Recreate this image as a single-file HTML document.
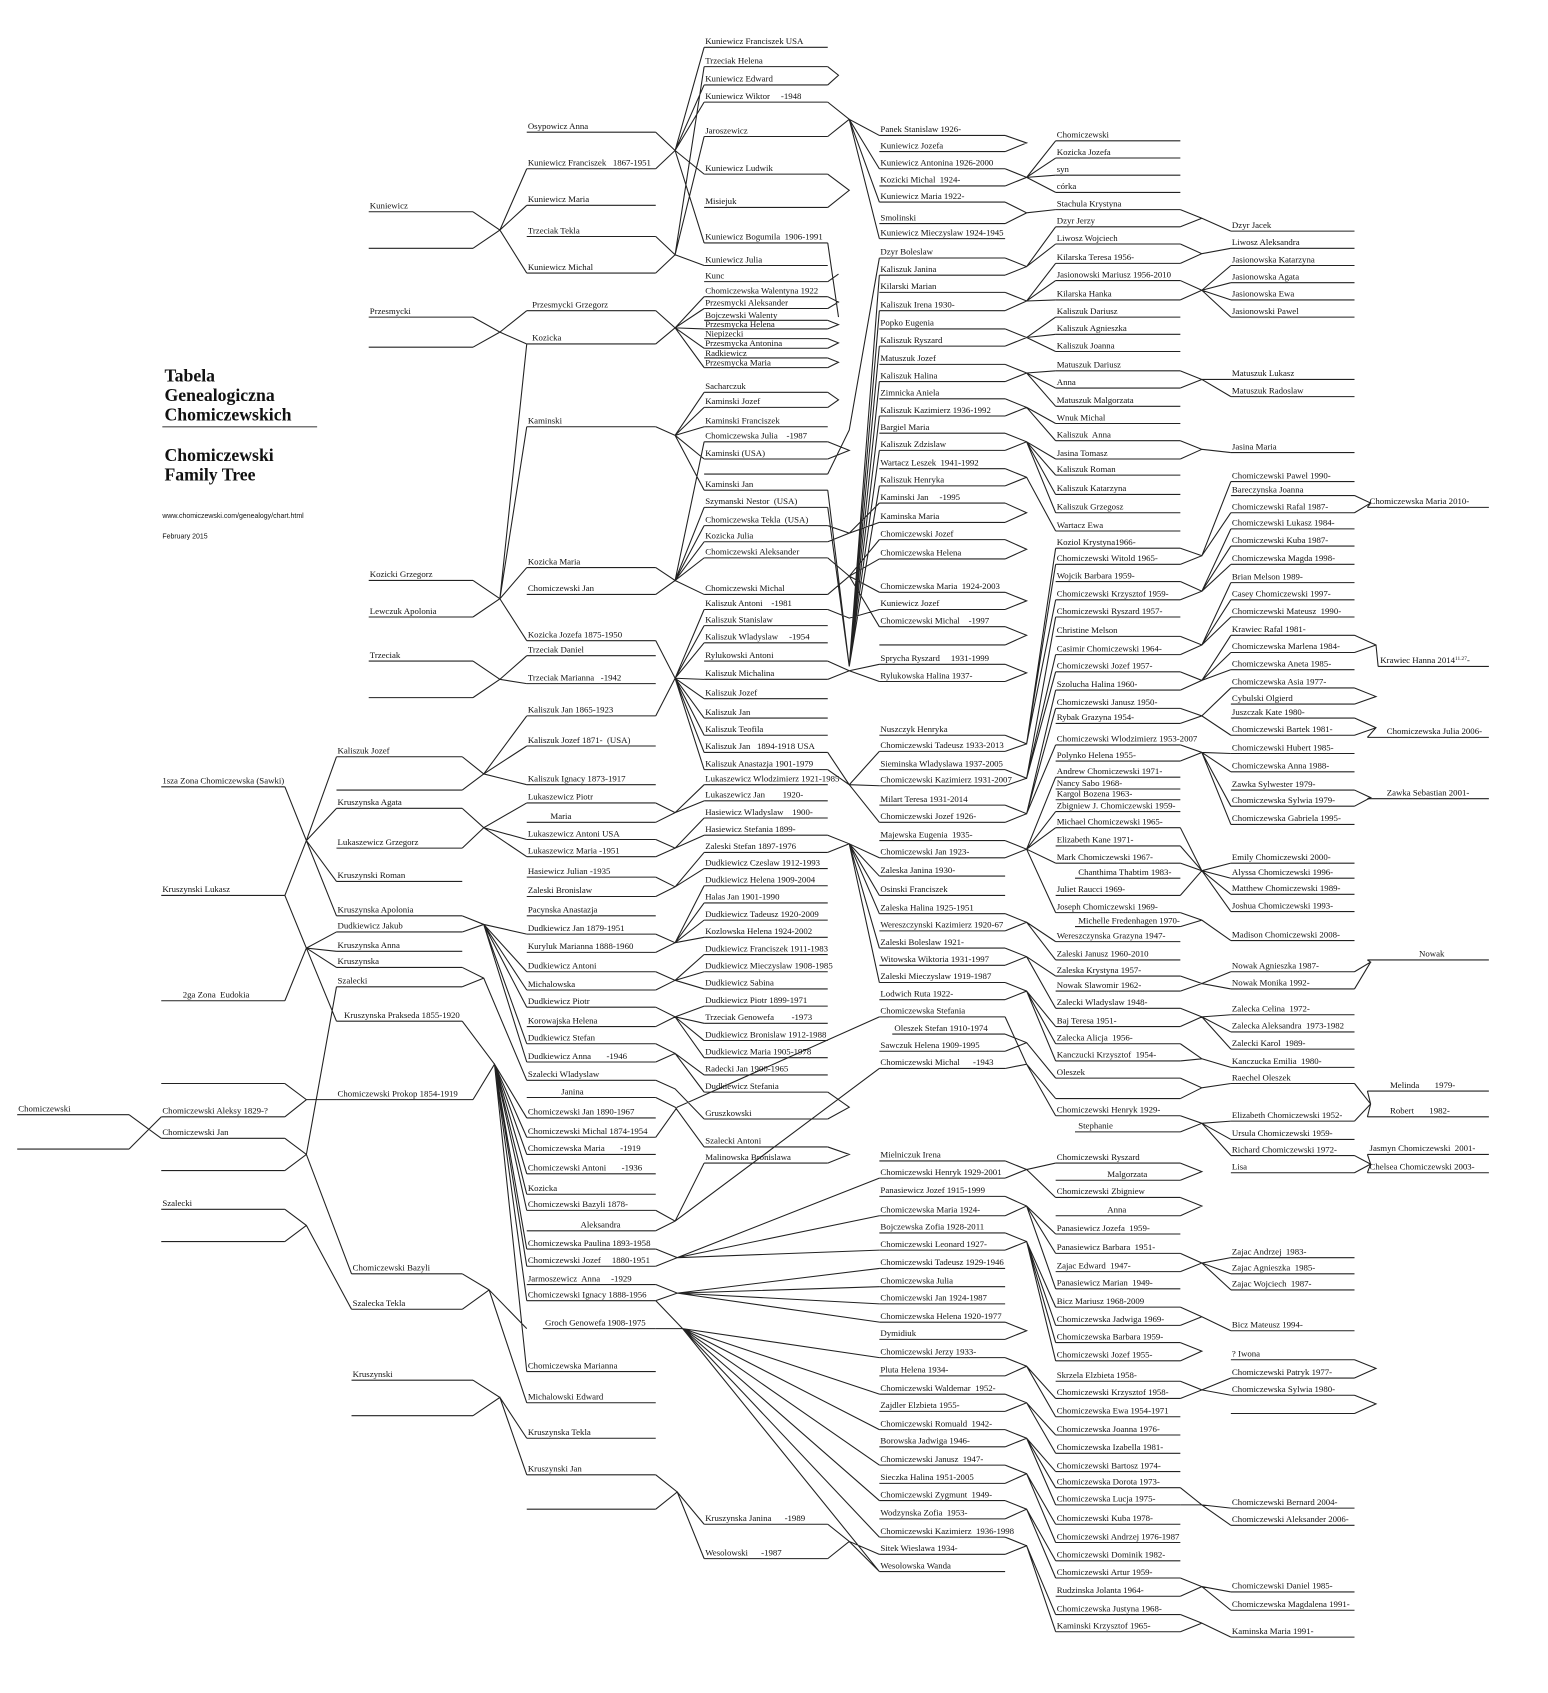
<!DOCTYPE html>
<html><head><meta charset="utf-8">
<style>
html,body{margin:0;padding:0;background:#fff;}
svg{display:block;}
text{font-family:"Liberation Serif",serif;font-size:8.2px;fill:#111;white-space:pre;}
.t{font-weight:bold;font-size:16.5px;}
.s{font-family:"Liberation Sans",sans-serif;font-size:6.5px;}
path{stroke:#222;fill:none;stroke-width:1;}
</style></head><body>
<svg width="1548" height="1693" viewBox="0 0 1440 1575" preserveAspectRatio="none" xmlns="http://www.w3.org/2000/svg">
<rect width="1440" height="1575" fill="#fff"/>
<text class="t" x="153" y="355">Tabela</text>
<text class="t" x="153" y="373">Genealogiczna</text>
<text class="t" x="153" y="391">Chomiczewskich</text>
<path d="M151 397H295" style="stroke:#777;stroke-width:1.3"/>
<text class="t" x="153" y="429">Chomiczewski</text>
<text class="t" x="153" y="447">Family Tree</text>
<text class="s" x="151" y="482">www.chomiczewski.com/genealogy/chart.html</text>
<text class="s" x="151" y="501">February 2015</text>

<path d="
M16 1037H120M16 1069H120
M150 732H265M150 833H265M150 931H265M150 1008H265M150 1039H265M150 1059H265M150 1089H265M150 1125H265M150 1155H265
M343 197H440M343 231H440M343 295H440M343 323H440M343 540H440M343 574H440M343 615H440M343 649H440
M313 704H430M313 735H430M313 752H430M313 789H430M313 820H430M313 852H430M313 867H430M313 885H430M313 900H430M313 918H430M313 950H430M313 1023H440
M327 1185H430M327 1218H430M327 1284H440M327 1317H440
M490 123H610M490 157H610M490 191H610M490 220H610M490 254H610M490 289H610M490 320H610M490 397H610M490 528H610M490 553H610M490 596H610M490 610H610M490 636H610M490 666H610M490 694H610M490 730H610M490 747H610M490 765H610M490 781H610M490 797H610M490 816H610M490 834H610M490 852H610M490 869H610M490 886H610M490 904H610M490 921H610M490 937H610M490 955H610M490 971H610M490 988H610M490 1005H610M490 1021H610M490 1040H610M490 1058H610M490 1074H610M490 1092H610M490 1111H610M490 1126H610M490 1145H610M490 1162H610M490 1178H610M490 1195H610M490 1210H610M505 1236H610M490 1276H610M490 1305H610M490 1338H610M490 1372H610M490 1404H610
M655 44H770M655 62H770M655 79H770M655 95H770M655 127H770M655 162H770M655 193H770M655 226H770M655 247H770M655 262H770M655 276H770M655 287H770M655 298H770M655 306H770M655 315H770M655 324H770M655 333H770M655 342H770M655 365H770M655 379H770M655 397H770M655 411H770M655 427H770M655 441H770M655 456H770M655 472H770M655 489H770M655 504H770M655 519H770M655 553H770M655 567H770M655 582H770M655 598H770M655 615H770M655 632H770M655 650H770M655 668H770M655 684H770M655 700H770M655 716H770M655 730H770M655 745H770M655 761H770M655 777H770M655 793H770M655 808H770M655 824H770M655 840H770M655 856H770M655 872H770M655 888H770M655 904H770M655 920H770M655 936H770M655 952H770M655 968H770M655 984H770M655 1000H770M655 1016H770M655 1041H770M655 1067H770M655 1082H770M655 1418H770M655 1450H770
M818 126H935M818 141H935M818 157H935M818 173H935M818 188H935M818 208H935M818 222H935M818 240H935M818 256H935M818 272H935M818 289H935M818 306H935M818 322H935M818 339H935M818 355H935M818 371H935M818 387H935M818 403H935M818 419H935M818 436H935M818 452H935M818 468H935M818 486H935M818 502H935M818 520H935M818 551H935M818 567H935M818 583H935M818 600H935M818 618H935M818 634H935M818 684H935M818 699H935M818 716H935M818 731H935M818 749H935M818 765H935M818 782H935M818 798H935M818 815H935M818 833H935M818 850H935M818 866H935M818 882H935M818 898H935M818 914H935M818 930H935M818 946H935M830 962H935M818 978H935M818 994H935
M818 1080H935M818 1096H935M818 1113H935M818 1131H935M818 1147H935M818 1163H935M818 1180H935M818 1197H935M818 1213H935M818 1230H935M818 1246H935M818 1263H935M818 1280H935M818 1297H935M818 1313H935M818 1330H935M818 1346H935M818 1363H935M818 1380H935M818 1396H935M818 1413H935M818 1430H935M818 1446H935M818 1462H935
M982 131H1098M982 147H1098M982 163H1098M982 179H1098M982 195H1098M982 211H1098M982 227H1098M982 245H1098M982 261H1098M982 279H1098M982 295H1098M982 311H1098M982 327H1098M982 345H1098M982 361H1098M982 378H1098M982 394H1098M982 410H1098M982 427H1098M982 442H1098M982 460H1098M982 477H1098M982 494H1098M982 510H1098M982 525H1098M982 541H1098M982 558H1098M982 574H1098M982 592H1098M982 609H1098M982 625H1098M982 642H1098M982 659H1098M982 673H1098M982 693H1098M982 708H1098M982 723H1098M982 734H1098M982 744H1098M982 755H1098M982 770H1098M982 787H1098M982 803H1098M1000 817H1098M982 833H1098M982 849H1098M1000 862H1098M982 876H1098M982 893H1098M982 908H1098M982 922H1098M982 938H1098M982 955H1098M982 971H1098M982 987H1098M982 1003H1098M982 1022H1098M982 1038H1098M1000 1053H1098
M982 1082H1098M982 1098H1098M982 1114H1098M982 1131H1098M982 1148H1098M982 1166H1098M982 1183H1098M982 1199H1098M982 1216H1098M982 1233H1098M982 1249H1098M982 1266H1098M982 1285H1098M982 1301H1098M982 1318H1098M982 1335H1098M982 1352H1098M982 1369H1098M982 1384H1098M982 1400H1098M982 1418H1098M982 1435H1098M982 1452H1098M982 1468H1098M982 1485H1098M982 1502H1098M982 1518H1098
M1145 215H1260M1145 231H1260M1145 247H1260M1145 263H1260M1145 279H1260M1145 295H1260M1145 353H1260M1145 369H1260M1145 421H1260M1145 448H1260M1145 461H1260M1145 477H1260M1145 492H1260M1145 508H1260M1145 525H1260M1145 542H1260M1145 558H1260M1145 574H1260M1145 591H1260M1145 607H1260M1145 623H1260M1145 640H1260M1145 655H1260M1145 668H1260M1145 684H1260M1145 701H1260M1145 718H1260M1145 735H1260M1145 750H1260M1145 767H1260M1145 803H1260M1145 817H1260M1145 832H1260M1145 848H1260M1145 875H1260M1145 904H1260M1145 920H1260M1145 944H1260M1145 960H1260M1145 976H1260M1145 993H1260M1145 1008H1260M1145 1043H1260M1145 1060H1260M1145 1075H1260M1145 1091H1260M1145 1170H1260M1145 1185H1260M1145 1200H1260M1145 1238H1260M1145 1265H1260M1145 1282H1260M1145 1298H1260M1145 1315H1260M1145 1403H1260M1145 1419H1260M1145 1481H1260M1145 1498H1260M1145 1523H1260
M1272 472H1385M1282 620H1385M1272 686H1385M1272 743H1385M1272 893H1385M1272 1015H1385M1272 1039H1385M1272 1074H1385M1272 1091H1385
"/>

<path d="
M120 1037L150 1059M120 1069L150 1039
M265 1008L285 1023L313 1023M265 1039L285 1023
M265 732L285 782L313 752M265 833L285 782L313 820M285 782L313 704M285 782L313 852
M265 833L285 882L313 867M265 931L285 882L313 885M285 882L313 900M285 882L313 950
M265 1059L285 1074L313 918M265 1089L285 1074L327 1185
M265 1125L285 1140L327 1218M265 1155L285 1140
M440 197L465 214L490 157M440 231L465 214L490 191M465 214L490 254
M440 295L465 309L490 289M440 323L465 309L490 320
M440 540L465 557L490 320M440 574L465 557L490 397M465 557L490 528M465 557L490 596
M440 615L465 632L490 610M440 649L465 632L490 636
M430 704L450 720L490 666M430 735L450 720L490 694M450 720L490 730
M430 752L450 770L490 747M430 789L450 770L490 781M450 770L490 797
M430 852L450 860L490 869M430 867L450 860L490 904M450 860L490 937M450 860L490 971M450 860L490 988M450 860L490 921
M430 900L450 910L490 1005M430 918L450 910
M430 950L460 990L490 1040M440 1023L460 990L490 1058M460 990L490 1074M460 990L490 1092M460 990L490 1126M460 990L490 1162M460 990L490 1178M460 990L490 1210M460 990L490 1276M460 990L490 1111
M430 1185L455 1200L490 1305M430 1218L455 1200L490 1236
M440 1284L465 1300L490 1338M440 1317L465 1300L490 1372
M610 123L628 140L655 44M610 157L628 140L655 79M628 140L655 95M628 140L655 162M628 140L655 226
M610 220L628 237L655 62M610 254L628 237L655 247M628 237L655 127
M610 289L628 305L655 276M610 320L628 305L655 287M628 305L655 306M628 305L655 324M628 305L655 342
M610 397L628 405L655 379M628 405L655 397M628 405L655 427M628 405L655 456M628 405L655 365
M610 528L628 540L655 411M610 553L628 540L655 489M628 540L655 504M628 540L655 519M628 540L655 553M628 540L655 472
M610 596L628 631L655 567M610 666L628 631L655 582M628 631L655 598M628 631L655 632M628 631L655 650M628 631L655 668M628 631L655 684M628 631L655 700M628 631L655 716
M610 747L628 756L655 730M610 765L628 756L655 745
M610 781L628 789L655 761M610 797L628 789L655 777
M610 816L628 825L655 808M610 834L628 825L655 793
M610 869L628 877L655 824M610 886L628 877L655 856M628 877L655 872M628 877L655 840
M610 904L628 912L655 888M610 921L628 912L655 904M628 912L655 920
M610 937L628 946L655 936M610 955L628 946L655 952M628 946L655 968M628 946L655 984
M610 971L628 980L655 1000M610 988L628 980L655 1016
M610 1005L628 1013L655 1041M610 1021L628 1030L655 1067
M610 1126L628 1136L818 994M610 1145L628 1136L655 1082
M610 1162L630 1170L818 1096M610 1178L630 1170L818 1131M630 1170L818 1163M610 1058L630 1030L818 946
M610 1195L630 1203L818 1180M610 1210L630 1203L818 1197M630 1203L818 1213M630 1203L818 1230
M610 1210L635 1236L818 1263M610 1236L635 1236L818 1297M635 1236L818 1330M635 1236L818 1363M635 1236L818 1396M635 1236L818 1430M635 1236L818 1462
M610 1372L630 1388L655 1418M610 1404L630 1388L655 1450
M770 62L780 70L770 79M770 162L790 177L770 193M770 226L780 295M770 262L780 255M770 276L780 281L770 287M770 298L780 302L770 306M770 315L780 319L770 324M770 333L780 337L770 342M770 365L780 372L770 379
M770 95L790 111L818 126M770 127L790 111L818 157M790 111L818 188M790 111L818 222
M770 411L790 419L770 427M770 441L790 400L818 240
M770 456L790 620L818 256M770 472L790 620L818 289M790 620L818 322M790 620L818 355M790 620L818 387M790 620L818 419M790 620L818 452
M770 489L790 496L818 486M770 504L790 496L818 468
M770 519L790 536L818 502M770 553L790 536L818 520M790 536L818 551M790 536L818 583
M770 567L790 575L818 567M770 615L790 624L818 634M770 632L790 624L818 618
M770 716L790 730L818 731M770 700L790 730L818 699M790 730L818 765
M770 777L790 785L818 798M770 793L790 785L818 815M790 785L818 850M790 785L818 882M790 785L818 914M790 785L818 833
M770 1082L790 1074L770 1067M770 1016L790 1030L770 1041
M770 1418L790 1434L818 1446M770 1450L790 1434L818 1462
M935 126L955 133L935 141
M935 157L955 165L982 163M935 173L955 165L982 179M955 165L982 131M955 165L982 147
M935 188L955 198L982 195M935 208L955 198
M935 240L955 248L982 211M935 256L955 248L982 227
M935 272L955 280L982 245M935 289L955 280L982 279M955 280L982 261
M935 306L955 314L982 295M935 322L955 314L982 311M955 314L982 327
M935 339L955 347L982 345M935 355L955 347L982 378M955 347L982 361
M935 371L955 379L982 410M935 387L955 379L982 394
M935 403L955 411L982 442M935 419L955 411L982 460M955 411L982 477M955 411L982 427
M935 436L955 444L982 494M935 452L955 444
M935 468L955 477L935 486M935 502L955 511L935 520M935 551L955 559L935 567M935 583L955 591L935 600M935 618L955 626L935 634
M935 684L955 692L982 525M935 699L955 692L982 558M955 692L982 510
M935 716L955 724L982 574M935 731L955 724L982 609M955 724L982 625
M935 749L955 757L982 659M935 765L955 757L982 693M955 757L982 642
M935 782L955 790L982 723M935 798L955 790L982 755M955 790L982 770M955 790L982 803M955 790L982 849
M935 850L955 858L982 893M935 866L955 858L982 876
M935 882L955 890L982 908M935 898L955 890L982 938
M935 914L955 922L982 955M935 930L955 922L982 971M955 922L982 987
M935 962L955 970L982 1003M935 978L955 970
M935 946L955 990L982 1022M935 994L955 990L982 1038
M935 1080L955 1088L982 1082M935 1096L955 1088L982 1114
M935 1113L955 1122L982 1148M935 1131L955 1122L982 1166M955 1122L982 1199
M935 1147L955 1155L982 1233M935 1163L955 1155L982 1249M955 1155L982 1266M955 1155L982 1216
M935 1230L955 1238L935 1246
M935 1263L955 1271L982 1301M935 1280L955 1271L982 1318
M935 1297L955 1305L982 1335M935 1313L955 1305L982 1352
M935 1330L955 1338L982 1369M935 1346L955 1338L982 1384M955 1338L982 1400
M935 1363L955 1371L982 1418M935 1380L955 1371L982 1435
M935 1396L955 1404L982 1452M935 1413L955 1404L982 1468
M935 1430L955 1438L982 1502M935 1446L955 1438L982 1518
M1098 195L1118 203L1145 215M1098 211L1118 203
M1098 227L1118 236L1145 231M1098 245L1118 236
M1098 261L1118 270L1145 247M1098 279L1118 270L1145 263M1118 270L1145 279M1118 270L1145 295
M1098 345L1118 353L1145 353M1098 361L1118 353L1145 369
M1098 410L1118 418L1145 421M1098 427L1118 418
M1098 510L1118 517L1145 448M1098 525L1118 517L1145 477
M1098 541L1118 550L1145 492M1098 558L1118 550L1145 508M1118 550L1145 525
M1098 592L1118 600L1145 542M1098 609L1118 600L1145 558M1118 600L1145 574
M1098 625L1118 633L1145 591M1098 642L1118 633L1145 607M1118 633L1145 623
M1098 659L1118 666L1145 640M1098 673L1118 666L1145 684
M1098 693L1118 700L1145 701M1098 708L1118 700L1145 718M1118 700L1145 750M1118 700L1145 767
M1098 770L1118 810L1145 803M1098 787L1118 810L1145 817M1098 803L1118 810L1145 832M1098 833L1118 810L1145 848
M1098 849L1118 856L1145 875M1098 862L1118 856
M1098 908L1118 915L1145 904M1098 922L1118 915L1145 920
M1098 938L1118 946L1145 944M1098 955L1118 946L1145 960M1118 946L1145 976
M1098 971L1118 985L1145 993M1098 987L1118 985
M1098 1003L1118 1012L1145 1008M1098 1022L1118 1012
M1098 1038L1118 1045L1145 1043M1098 1053L1118 1045L1145 1060M1118 1045L1145 1075
M1098 1166L1118 1175L1145 1170M1098 1183L1118 1175L1145 1185M1118 1175L1145 1200
M1098 1216L1118 1225L1145 1238M1098 1233L1118 1225
M1098 1082L1118 1090L1098 1098M1098 1114L1118 1122L1098 1131M1098 1249L1118 1257L1098 1266
M1098 1285L1118 1293L1145 1282M1098 1301L1118 1293L1145 1298
M1098 1384L1118 1400L1145 1403M1098 1400L1118 1400L1145 1419
M1098 1468L1118 1476L1145 1481M1098 1485L1118 1476L1145 1498
M1098 1502L1118 1510L1145 1523M1098 1518L1118 1510
M1260 1265L1280 1273L1260 1282M1260 1298L1280 1306L1260 1315
M1260 461L1275 468L1272 472M1260 477L1275 468
M1260 591L1280 600L1282 620M1260 607L1280 600
M1260 640L1280 648L1260 655M1260 668L1280 677L1272 686M1260 684L1280 677
M1260 735L1275 742L1272 743M1260 750L1275 742
M1260 904L1275 895L1272 893M1260 920L1275 895
M1260 1008L1275 1027L1272 1039M1260 1043L1275 1027L1272 1015
M1260 1075L1275 1083L1272 1091M1260 1091L1275 1083L1272 1074
"/>

<text x="17" y="1034">Chomiczewski</text>
<text x="151" y="729">1sza Zona Chomiczewska (Sawki)</text>
<text x="151" y="830">Kruszynski Lukasz</text>
<text x="170" y="928">2ga Zona  Eudokia</text>
<text x="151" y="1036">Chomiczewski Aleksy 1829-?</text>
<text x="151" y="1056">Chomiczewski Jan</text>
<text x="151" y="1122">Szalecki</text>
<text x="344" y="194">Kuniewicz</text>
<text x="344" y="292">Przesmycki</text>
<text x="344" y="537">Kozicki Grzegorz</text>
<text x="344" y="571">Lewczuk Apolonia</text>
<text x="344" y="612">Trzeciak</text>
<text x="314" y="701">Kaliszuk Jozef</text>
<text x="314" y="749">Kruszynska Agata</text>
<text x="314" y="786">Lukaszewicz Grzegorz</text>
<text x="314" y="817">Kruszynski Roman</text>
<text x="314" y="849">Kruszynska Apolonia</text>
<text x="314" y="864">Dudkiewicz Jakub</text>
<text x="314" y="882">Kruszynska Anna</text>
<text x="314" y="897">Kruszynska</text>
<text x="314" y="915">Szalecki</text>
<text x="320" y="947">Kruszynska Prakseda 1855-1920</text>
<text x="314" y="1020">Chomiczewski Prokop 1854-1919</text>
<text x="328" y="1182">Chomiczewski Bazyli</text>
<text x="328" y="1215">Szalecka Tekla</text>
<text x="328" y="1281">Kruszynski</text>

<text x="491" y="120">Osypowicz Anna</text>
<text x="491" y="154">Kuniewicz Franciszek   1867-1951</text>
<text x="491" y="188">Kuniewicz Maria</text>
<text x="491" y="217">Trzeciak Tekla</text>
<text x="491" y="251">Kuniewicz Michal</text>
<text x="495" y="286">Przesmycki Grzegorz</text>
<text x="495" y="317">Kozicka</text>
<text x="491" y="394">Kaminski</text>
<text x="491" y="525">Kozicka Maria</text>
<text x="491" y="550">Chomiczewski Jan</text>
<text x="491" y="593">Kozicka Jozefa 1875-1950</text>
<text x="491" y="607">Trzeciak Daniel</text>
<text x="491" y="633">Trzeciak Marianna   -1942</text>
<text x="491" y="663">Kaliszuk Jan 1865-1923</text>
<text x="491" y="691">Kaliszuk Jozef 1871-  (USA)</text>
<text x="491" y="727">Kaliszuk Ignacy 1873-1917</text>
<text x="491" y="744">Lukaszewicz Piotr</text>
<text x="512" y="762">Maria</text>
<text x="491" y="778">Lukaszewicz Antoni USA</text>
<text x="491" y="794">Lukaszewicz Maria -1951</text>
<text x="491" y="813">Hasiewicz Julian -1935</text>
<text x="491" y="831">Zaleski Bronislaw</text>
<text x="491" y="849">Pacynska Anastazja</text>
<text x="491" y="866">Dudkiewicz Jan 1879-1951</text>
<text x="491" y="883">Kuryluk Marianna 1888-1960</text>
<text x="491" y="901">Dudkiewicz Antoni</text>
<text x="491" y="918">Michalowska</text>
<text x="491" y="934">Dudkiewicz Piotr</text>
<text x="491" y="952">Korowajska Helena</text>
<text x="491" y="968">Dudkiewicz Stefan</text>
<text x="491" y="985">Dudkiewicz Anna       -1946</text>
<text x="491" y="1002">Szalecki Wladyslaw</text>
<text x="522" y="1018">Janina</text>
<text x="491" y="1037">Chomiczewski Jan 1890-1967</text>
<text x="491" y="1055">Chomiczewski Michal 1874-1954</text>
<text x="491" y="1071">Chomiczewska Maria       -1919</text>
<text x="491" y="1089">Chomiczewski Antoni       -1936</text>
<text x="491" y="1108">Kozicka</text>
<text x="491" y="1123">Chomiczewski Bazyli 1878-</text>
<text x="540" y="1142">Aleksandra</text>
<text x="491" y="1159">Chomiczewska Paulina 1893-1958</text>
<text x="491" y="1175">Chomiczewski Jozef     1880-1951</text>
<text x="491" y="1192">Jarmoszewicz  Anna     -1929</text>
<text x="491" y="1207">Chomiczewski Ignacy 1888-1956</text>
<text x="507" y="1233">Groch Genowefa 1908-1975</text>
<text x="491" y="1273">Chomiczewska Marianna</text>
<text x="491" y="1302">Michalowski Edward</text>
<text x="491" y="1335">Kruszynska Tekla</text>
<text x="491" y="1369">Kruszynski Jan</text>

<text x="656" y="41">Kuniewicz Franciszek USA</text>
<text x="656" y="59">Trzeciak Helena</text>
<text x="656" y="76">Kuniewicz Edward</text>
<text x="656" y="92">Kuniewicz Wiktor     -1948</text>
<text x="656" y="124">Jaroszewicz</text>
<text x="656" y="159">Kuniewicz Ludwik</text>
<text x="656" y="190">Misiejuk</text>
<text x="656" y="223">Kuniewicz Bogumila  1906-1991</text>
<text x="656" y="244">Kuniewicz Julia</text>
<text x="656" y="259">Kunc</text>
<text x="656" y="273">Chomiczewska Walentyna 1922</text>
<text x="656" y="284">Przesmycki Aleksander</text>
<text x="656" y="296">Bojczewski Walenty</text>
<text x="656" y="304">Przesmycka Helena</text>
<text x="656" y="313">Niepizecki</text>
<text x="656" y="322">Przesmycka Antonina</text>
<text x="656" y="331">Radkiewicz</text>
<text x="656" y="340">Przesmycka Maria</text>
<text x="656" y="362">Sacharczuk</text>
<text x="656" y="376">Kaminski Jozef</text>
<text x="656" y="394">Kaminski Franciszek</text>
<text x="656" y="408">Chomiczewska Julia    -1987</text>
<text x="656" y="424">Kaminski (USA)</text>
<text x="656" y="453">Kaminski Jan</text>
<text x="656" y="469">Szymanski Nestor  (USA)</text>
<text x="656" y="486">Chomiczewska Tekla  (USA)</text>
<text x="656" y="501">Kozicka Julia</text>
<text x="656" y="516">Chomiczewski Aleksander</text>
<text x="656" y="550">Chomiczewski Michal</text>
<text x="656" y="564">Kaliszuk Antoni    -1981</text>
<text x="656" y="579">Kaliszuk Stanislaw</text>
<text x="656" y="595">Kaliszuk Wladyslaw     -1954</text>
<text x="656" y="612">Rylukowski Antoni</text>
<text x="656" y="629">Kaliszuk Michalina</text>
<text x="656" y="647">Kaliszuk Jozef</text>
<text x="656" y="665">Kaliszuk Jan</text>
<text x="656" y="681">Kaliszuk Teofila</text>
<text x="656" y="697">Kaliszuk Jan   1894-1918 USA</text>
<text x="656" y="713">Kaliszuk Anastazja 1901-1979</text>
<text x="656" y="727">Lukaszewicz Wlodzimierz 1921-1985</text>
<text x="656" y="742">Lukaszewicz Jan        1920-</text>
<text x="656" y="758">Hasiewicz Wladyslaw    1900-</text>
<text x="656" y="774">Hasiewicz Stefania 1899-</text>
<text x="656" y="790">Zaleski Stefan 1897-1976</text>
<text x="656" y="805">Dudkiewicz Czeslaw 1912-1993</text>
<text x="656" y="821">Dudkiewicz Helena 1909-2004</text>
<text x="656" y="837">Halas Jan 1901-1990</text>
<text x="656" y="853">Dudkiewicz Tadeusz 1920-2009</text>
<text x="656" y="869">Kozlowska Helena 1924-2002</text>
<text x="656" y="885">Dudkiewicz Franciszek 1911-1983</text>
<text x="656" y="901">Dudkiewicz Mieczyslaw 1908-1985</text>
<text x="656" y="917">Dudkiewicz Sabina</text>
<text x="656" y="933">Dudkiewicz Piotr 1899-1971</text>
<text x="656" y="949">Trzeciak Genowefa        -1973</text>
<text x="656" y="965">Dudkiewicz Bronislaw 1912-1988</text>
<text x="656" y="981">Dudkiewicz Maria 1905-1978</text>
<text x="656" y="997">Radecki Jan 1900-1965</text>
<text x="656" y="1013">Dudkiewicz Stefania</text>
<text x="656" y="1038">Gruszkowski</text>
<text x="656" y="1064">Szalecki Antoni</text>
<text x="656" y="1079">Malinowska Bronislawa</text>
<text x="656" y="1415">Kruszynska Janina      -1989</text>
<text x="656" y="1447">Wesolowski      -1987</text>

<text x="819" y="123">Panek Stanislaw 1926-</text>
<text x="819" y="138">Kuniewicz Jozefa</text>
<text x="819" y="154">Kuniewicz Antonina 1926-2000</text>
<text x="819" y="170">Kozicki Michal  1924-</text>
<text x="819" y="185">Kuniewicz Maria 1922-</text>
<text x="819" y="205">Smolinski</text>
<text x="819" y="219">Kuniewicz Mieczyslaw 1924-1945</text>
<text x="819" y="237">Dzyr Boleslaw</text>
<text x="819" y="253">Kaliszuk Janina</text>
<text x="819" y="269">Kilarski Marian</text>
<text x="819" y="286">Kaliszuk Irena 1930-</text>
<text x="819" y="303">Popko Eugenia</text>
<text x="819" y="319">Kaliszuk Ryszard</text>
<text x="819" y="336">Matuszuk Jozef</text>
<text x="819" y="352">Kaliszuk Halina</text>
<text x="819" y="368">Zimnicka Aniela</text>
<text x="819" y="384">Kaliszuk Kazimierz 1936-1992</text>
<text x="819" y="400">Bargiel Maria</text>
<text x="819" y="416">Kaliszuk Zdzislaw</text>
<text x="819" y="433">Wartacz Leszek  1941-1992</text>
<text x="819" y="449">Kaliszuk Henryka</text>
<text x="819" y="465">Kaminski Jan     -1995</text>
<text x="819" y="483">Kaminska Maria</text>
<text x="819" y="499">Chomiczewski Jozef</text>
<text x="819" y="517">Chomiczewska Helena</text>
<text x="819" y="548">Chomiczewska Maria  1924-2003</text>
<text x="819" y="564">Kuniewicz Jozef</text>
<text x="819" y="580">Chomiczewski Michal    -1997</text>
<text x="819" y="615">Sprycha Ryszard     1931-1999</text>
<text x="819" y="631">Rylukowska Halina 1937-</text>
<text x="819" y="681">Nuszczyk Henryka</text>
<text x="819" y="696">Chomiczewski Tadeusz 1933-2013</text>
<text x="819" y="713">Sieminska Wladyslawa 1937-2005</text>
<text x="819" y="728">Chomiczewski Kazimierz 1931-2007</text>
<text x="819" y="746">Milart Teresa 1931-2014</text>
<text x="819" y="762">Chomiczewski Jozef 1926-</text>
<text x="819" y="779">Majewska Eugenia  1935-</text>
<text x="819" y="795">Chomiczewski Jan 1923-</text>
<text x="819" y="812">Zaleska Janina 1930-</text>
<text x="819" y="830">Osinski Franciszek</text>
<text x="819" y="847">Zaleska Halina 1925-1951</text>
<text x="819" y="863">Wereszczynski Kazimierz 1920-67</text>
<text x="819" y="879">Zaleski Boleslaw 1921-</text>
<text x="819" y="895">Witowska Wiktoria 1931-1997</text>
<text x="819" y="911">Zaleski Mieczyslaw 1919-1987</text>
<text x="819" y="927">Lodwich Ruta 1922-</text>
<text x="819" y="943">Chomiczewska Stefania</text>
<text x="832" y="959">Oleszek Stefan 1910-1974</text>
<text x="819" y="975">Sawczuk Helena 1909-1995</text>
<text x="819" y="991">Chomiczewski Michal      -1943</text>
<text x="819" y="1077">Mielniczuk Irena</text>
<text x="819" y="1093">Chomiczewski Henryk 1929-2001</text>
<text x="819" y="1110">Panasiewicz Jozef 1915-1999</text>
<text x="819" y="1128">Chomiczewska Maria 1924-</text>
<text x="819" y="1144">Bojczewska Zofia 1928-2011</text>
<text x="819" y="1160">Chomiczewski Leonard 1927-</text>
<text x="819" y="1177">Chomiczewski Tadeusz 1929-1946</text>
<text x="819" y="1194">Chomiczewska Julia</text>
<text x="819" y="1210">Chomiczewski Jan 1924-1987</text>
<text x="819" y="1227">Chomiczewska Helena 1920-1977</text>
<text x="819" y="1243">Dymidiuk</text>
<text x="819" y="1260">Chomiczewski Jerzy 1933-</text>
<text x="819" y="1277">Pluta Helena 1934-</text>
<text x="819" y="1294">Chomiczewski Waldemar  1952-</text>
<text x="819" y="1310">Zajdler Elzbieta 1955-</text>
<text x="819" y="1327">Chomiczewski Romuald  1942-</text>
<text x="819" y="1343">Borowska Jadwiga 1946-</text>
<text x="819" y="1360">Chomiczewski Janusz  1947-</text>
<text x="819" y="1377">Sieczka Halina 1951-2005</text>
<text x="819" y="1393">Chomiczewski Zygmunt  1949-</text>
<text x="819" y="1410">Wodzynska Zofia  1953-</text>
<text x="819" y="1427">Chomiczewski Kazimierz  1936-1998</text>
<text x="819" y="1443">Sitek Wieslawa 1934-</text>
<text x="819" y="1459">Wesolowska Wanda</text>

<text x="983" y="128">Chomiczewski</text>
<text x="983" y="144">Kozicka Jozefa</text>
<text x="983" y="160">syn</text>
<text x="983" y="176">córka</text>
<text x="983" y="192">Stachula Krystyna</text>
<text x="983" y="208">Dzyr Jerzy</text>
<text x="983" y="224">Liwosz Wojciech</text>
<text x="983" y="242">Kilarska Teresa 1956-</text>
<text x="983" y="258">Jasionowski Mariusz 1956-2010</text>
<text x="983" y="276">Kilarska Hanka</text>
<text x="983" y="292">Kaliszuk Dariusz</text>
<text x="983" y="308">Kaliszuk Agnieszka</text>
<text x="983" y="324">Kaliszuk Joanna</text>
<text x="983" y="342">Matuszuk Dariusz</text>
<text x="983" y="358">Anna</text>
<text x="983" y="375">Matuszuk Malgorzata</text>
<text x="983" y="391">Wnuk Michal</text>
<text x="983" y="407">Kaliszuk  Anna</text>
<text x="983" y="424">Jasina Tomasz</text>
<text x="983" y="439">Kaliszuk Roman</text>
<text x="983" y="457">Kaliszuk Katarzyna</text>
<text x="983" y="474">Kaliszuk Grzegosz</text>
<text x="983" y="491">Wartacz Ewa</text>
<text x="983" y="507">Koziol Krystyna1966-</text>
<text x="983" y="522">Chomiczewski Witold 1965-</text>
<text x="983" y="538">Wojcik Barbara 1959-</text>
<text x="983" y="555">Chomiczewski Krzysztof 1959-</text>
<text x="983" y="571">Chomiczewski Ryszard 1957-</text>
<text x="983" y="589">Christine Melson</text>
<text x="983" y="606">Casimir Chomiczewski 1964-</text>
<text x="983" y="622">Chomiczewski Jozef 1957-</text>
<text x="983" y="639">Szolucha Halina 1960-</text>
<text x="983" y="656">Chomiczewski Janusz 1950-</text>
<text x="983" y="670">Rybak Grazyna 1954-</text>
<text x="983" y="690">Chomiczewski Wlodzimierz 1953-2007</text>
<text x="983" y="705">Polynko Helena 1955-</text>
<text x="983" y="720">Andrew Chomiczewski 1971-</text>
<text x="983" y="731">Nancy Sabo 1968-</text>
<text x="983" y="741">Kargol Bozena 1963-</text>
<text x="983" y="752">Zbigniew J. Chomiczewski 1959-</text>
<text x="983" y="767">Michael Chomiczewski 1965-</text>
<text x="983" y="784">Elizabeth Kane 1971-</text>
<text x="983" y="800">Mark Chomiczewski 1967-</text>
<text x="1003" y="814">Chanthima Thabtim 1983-</text>
<text x="983" y="830">Juliet Raucci 1969-</text>
<text x="983" y="846">Joseph Chomiczewski 1969-</text>
<text x="1003" y="859">Michelle Fredenhagen 1970-</text>
<text x="983" y="873">Wereszczynska Grazyna 1947-</text>
<text x="983" y="890">Zaleski Janusz 1960-2010</text>
<text x="983" y="905">Zaleska Krystyna 1957-</text>
<text x="983" y="919">Nowak Slawomir 1962-</text>
<text x="983" y="935">Zalecki Wladyslaw 1948-</text>
<text x="983" y="952">Baj Teresa 1951-</text>
<text x="983" y="968">Zalecka Alicja  1956-</text>
<text x="983" y="984">Kanczucki Krzysztof  1954-</text>
<text x="983" y="1000">Oleszek</text>
<text x="983" y="1035">Chomiczewski Henryk 1929-</text>
<text x="1003" y="1050">Stephanie</text>
<text x="983" y="1079">Chomiczewski Ryszard</text>
<text x="1030" y="1095">Malgorzata</text>
<text x="983" y="1111">Chomiczewski Zbigniew</text>
<text x="1030" y="1128">Anna</text>
<text x="983" y="1145">Panasiewicz Jozefa  1959-</text>
<text x="983" y="1163">Panasiewicz Barbara  1951-</text>
<text x="983" y="1180">Zajac Edward  1947-</text>
<text x="983" y="1196">Panasiewicz Marian  1949-</text>
<text x="983" y="1213">Bicz Mariusz 1968-2009</text>
<text x="983" y="1230">Chomiczewska Jadwiga 1969-</text>
<text x="983" y="1246">Chomiczewska Barbara 1959-</text>
<text x="983" y="1263">Chomiczewski Jozef 1955-</text>
<text x="983" y="1282">Skrzela Elzbieta 1958-</text>
<text x="983" y="1298">Chomiczewski Krzysztof 1958-</text>
<text x="983" y="1315">Chomiczewska Ewa 1954-1971</text>
<text x="983" y="1332">Chomiczewska Joanna 1976-</text>
<text x="983" y="1349">Chomiczewska Izabella 1981-</text>
<text x="983" y="1366">Chomiczewski Bartosz 1974-</text>
<text x="983" y="1381">Chomiczewska Dorota 1973-</text>
<text x="983" y="1397">Chomiczewska Lucja 1975-</text>
<text x="983" y="1415">Chomiczewski Kuba 1978-</text>
<text x="983" y="1432">Chomiczewski Andrzej 1976-1987</text>
<text x="983" y="1449">Chomiczewski Dominik 1982-</text>
<text x="983" y="1465">Chomiczewski Artur 1959-</text>
<text x="983" y="1482">Rudzinska Jolanta 1964-</text>
<text x="983" y="1499">Chomiczewska Justyna 1968-</text>
<text x="983" y="1515">Kaminski Krzysztof 1965-</text>

<text x="1146" y="212">Dzyr Jacek</text>
<text x="1146" y="228">Liwosz Aleksandra</text>
<text x="1146" y="244">Jasionowska Katarzyna</text>
<text x="1146" y="260">Jasionowska Agata</text>
<text x="1146" y="276">Jasionowska Ewa</text>
<text x="1146" y="292">Jasionowski Pawel</text>
<text x="1146" y="350">Matuszuk Lukasz</text>
<text x="1146" y="366">Matuszuk Radoslaw</text>
<text x="1146" y="418">Jasina Maria</text>
<text x="1146" y="445">Chomiczewski Pawel 1990-</text>
<text x="1146" y="458">Bareczynska Joanna</text>
<text x="1146" y="474">Chomiczewski Rafal 1987-</text>
<text x="1146" y="489">Chomiczewski Lukasz 1984-</text>
<text x="1146" y="505">Chomiczewski Kuba 1987-</text>
<text x="1146" y="522">Chomiczewska Magda 1998-</text>
<text x="1146" y="539">Brian Melson 1989-</text>
<text x="1146" y="555">Casey Chomiczewski 1997-</text>
<text x="1146" y="571">Chomiczewski Mateusz  1990-</text>
<text x="1146" y="588">Krawiec Rafal 1981-</text>
<text x="1146" y="604">Chomiczewska Marlena 1984-</text>
<text x="1146" y="620">Chomiczewska Aneta 1985-</text>
<text x="1146" y="637">Chomiczewska Asia 1977-</text>
<text x="1146" y="652">Cybulski Olgierd</text>
<text x="1146" y="665">Juszczak Kate 1980-</text>
<text x="1146" y="681">Chomiczewski Bartek 1981-</text>
<text x="1146" y="698">Chomiczewski Hubert 1985-</text>
<text x="1146" y="715">Chomiczewska Anna 1988-</text>
<text x="1146" y="732">Zawka Sylwester 1979-</text>
<text x="1146" y="747">Chomiczewska Sylwia 1979-</text>
<text x="1146" y="764">Chomiczewska Gabriela 1995-</text>
<text x="1146" y="800">Emily Chomiczewski 2000-</text>
<text x="1146" y="814">Alyssa Chomiczewski 1996-</text>
<text x="1146" y="829">Matthew Chomiczewski 1989-</text>
<text x="1146" y="845">Joshua Chomiczewski 1993-</text>
<text x="1146" y="872">Madison Chomiczewski 2008-</text>
<text x="1146" y="901">Nowak Agnieszka 1987-</text>
<text x="1146" y="917">Nowak Monika 1992-</text>
<text x="1146" y="941">Zalecka Celina  1972-</text>
<text x="1146" y="957">Zalecka Aleksandra  1973-1982</text>
<text x="1146" y="973">Zalecki Karol  1989-</text>
<text x="1146" y="990">Kanczucka Emilia  1980-</text>
<text x="1146" y="1005">Raechel Oleszek</text>
<text x="1146" y="1040">Elizabeth Chomiczewski 1952-</text>
<text x="1146" y="1057">Ursula Chomiczewski 1959-</text>
<text x="1146" y="1072">Richard Chomiczewski 1972-</text>
<text x="1146" y="1088">Lisa</text>
<text x="1146" y="1167">Zajac Andrzej  1983-</text>
<text x="1146" y="1182">Zajac Agnieszka  1985-</text>
<text x="1146" y="1197">Zajac Wojciech  1987-</text>
<text x="1146" y="1235">Bicz Mateusz 1994-</text>
<text x="1146" y="1262">? Iwona</text>
<text x="1146" y="1279">Chomiczewski Patryk 1977-</text>
<text x="1146" y="1295">Chomiczewska Sylwia 1980-</text>
<text x="1146" y="1400">Chomiczewski Bernard 2004-</text>
<text x="1146" y="1416">Chomiczewski Aleksander 2006-</text>
<text x="1146" y="1478">Chomiczewski Daniel 1985-</text>
<text x="1146" y="1495">Chomiczewska Magdalena 1991-</text>
<text x="1146" y="1520">Kaminska Maria 1991-</text>

<text x="1274" y="469">Chomiczewska Maria 2010-</text>
<text x="1284" y="617">Krawiec Hanna 2014<tspan font-size="5" dy="-3">11.27</tspan><tspan dy="3">-</tspan></text>
<text x="1290" y="683">Chomiczewska Julia 2006-</text>
<text x="1290" y="740">Zawka Sebastian 2001-</text>
<text x="1320" y="890">Nowak</text>
<text x="1293" y="1012">Melinda       1979-</text>
<text x="1293" y="1036">Robert       1982-</text>
<text x="1274" y="1071">Jasmyn Chomiczewski  2001-</text>
<text x="1274" y="1088">Chelsea Chomiczewski 2003-</text>
</svg>
</body></html>
